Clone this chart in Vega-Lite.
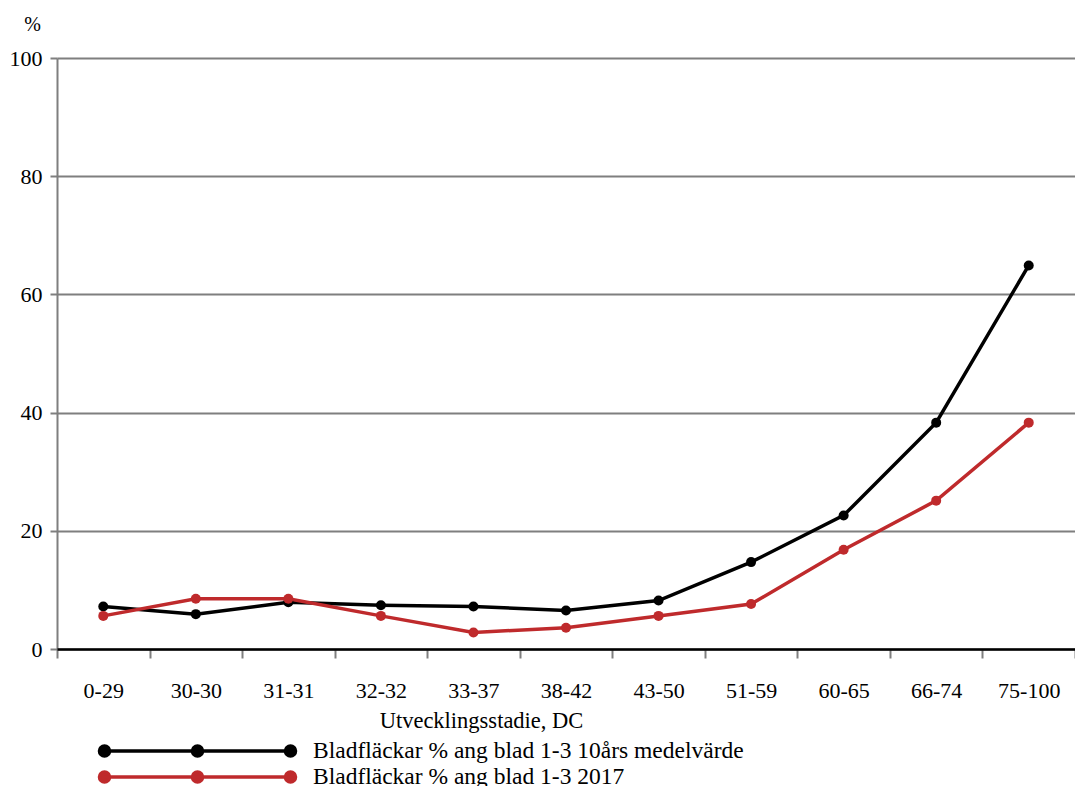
{
  "$schema": "https://vega.github.io/schema/vega-lite/v6.json",
  "autosize": {"type": "none"},
  "padding": {"left": 57, "top": 58, "right": 0, "bottom": 137},
  "width": 1018,
  "height": 591,
  "background": "white",
  "config": {
    "font": "Liberation Serif",
    "view": {"stroke": null}
  },
  "data": {
    "values": [
      {"stage": "0-29", "serie": "Bladfläckar % ang blad 1-3 10års medelvärde", "value": 7.2},
      {"stage": "30-30", "serie": "Bladfläckar % ang blad 1-3 10års medelvärde", "value": 5.9},
      {"stage": "31-31", "serie": "Bladfläckar % ang blad 1-3 10års medelvärde", "value": 7.9},
      {"stage": "32-32", "serie": "Bladfläckar % ang blad 1-3 10års medelvärde", "value": 7.4},
      {"stage": "33-37", "serie": "Bladfläckar % ang blad 1-3 10års medelvärde", "value": 7.2},
      {"stage": "38-42", "serie": "Bladfläckar % ang blad 1-3 10års medelvärde", "value": 6.5},
      {"stage": "43-50", "serie": "Bladfläckar % ang blad 1-3 10års medelvärde", "value": 8.2},
      {"stage": "51-59", "serie": "Bladfläckar % ang blad 1-3 10års medelvärde", "value": 14.7},
      {"stage": "60-65", "serie": "Bladfläckar % ang blad 1-3 10års medelvärde", "value": 22.6},
      {"stage": "66-74", "serie": "Bladfläckar % ang blad 1-3 10års medelvärde", "value": 38.3},
      {"stage": "75-100", "serie": "Bladfläckar % ang blad 1-3 10års medelvärde", "value": 64.9},
      {"stage": "0-29", "serie": "Bladfläckar % ang blad 1-3 2017", "value": 5.6},
      {"stage": "30-30", "serie": "Bladfläckar % ang blad 1-3 2017", "value": 8.5},
      {"stage": "31-31", "serie": "Bladfläckar % ang blad 1-3 2017", "value": 8.5},
      {"stage": "32-32", "serie": "Bladfläckar % ang blad 1-3 2017", "value": 5.6},
      {"stage": "33-37", "serie": "Bladfläckar % ang blad 1-3 2017", "value": 2.8},
      {"stage": "38-42", "serie": "Bladfläckar % ang blad 1-3 2017", "value": 3.6},
      {"stage": "43-50", "serie": "Bladfläckar % ang blad 1-3 2017", "value": 5.6},
      {"stage": "51-59", "serie": "Bladfläckar % ang blad 1-3 2017", "value": 7.6},
      {"stage": "60-65", "serie": "Bladfläckar % ang blad 1-3 2017", "value": 16.8},
      {"stage": "66-74", "serie": "Bladfläckar % ang blad 1-3 2017", "value": 25.1},
      {"stage": "75-100", "serie": "Bladfläckar % ang blad 1-3 2017", "value": 38.3}
    ]
  },
  "mark": {"type": "line", "strokeWidth": 3.5, "point": {"filled": true, "size": 100}},
  "encoding": {
    "x": {
      "field": "stage",
      "type": "nominal",
      "sort": null,
      "scale": {"type": "band", "paddingInner": 0, "paddingOuter": 0},
      "title": "Utvecklingsstadie, DC",
      "axis": {
        "labelAngle": 0,
        "labelFontSize": 22,
        "labelColor": "black",
        "labelPadding": 22,
        "tickBand": "extent",
        "tickSize": 9,
        "tickWidth": 2,
        "tickColor": "#7f7f7f",
        "domainColor": "black",
        "domainWidth": 2.5,
        "zindex": 1,
        "titleFontSize": 22.5,
        "titleFontWeight": "normal",
        "titleColor": "black",
        "titleAnchor": null,
        "titleAlign": "center",
        "titleBaseline": "middle",
        "titleX": 424,
        "titleY": 71
      }
    },
    "y": {
      "field": "value",
      "type": "quantitative",
      "scale": {"domain": [0, 100]},
      "title": "%",
      "axis": {
        "values": [0, 20, 40, 60, 80, 100],
        "labelFontSize": 22,
        "labelColor": "black",
        "labelPadding": 8,
        "tickSize": 7,
        "tickWidth": 2,
        "tickColor": "#7f7f7f",
        "gridColor": "#7f7f7f",
        "gridWidth": 2,
        "gridOpacity": 1,
        "domainColor": "#7f7f7f",
        "domainWidth": 2,
        "titleAngle": 0,
        "titleFontSize": 20,
        "titleFontWeight": "normal",
        "titleColor": "black",
        "titleAnchor": null,
        "titleAlign": "center",
        "titleBaseline": "middle",
        "titleX": -25,
        "titleY": -34
      }
    },
    "color": {
      "field": "serie",
      "type": "nominal",
      "scale": {
        "domain": ["Bladfläckar % ang blad 1-3 10års medelvärde", "Bladfläckar % ang blad 1-3 2017"],
        "range": ["#000000", "#bf2a2c"]
      },
      "legend": {
        "title": null,
        "orient": "none",
        "direction": "vertical",
        "legendX": 39.5,
        "legendY": 680,
        "padding": 0,
        "rowPadding": 0,
        "clipHeight": 26,
        "symbolOffset": 6,
        "symbolType": "M-1,0L1,0M-1.054,0A0.054,0.054,0,1,0,-0.946,0A0.054,0.054,0,1,0,-1.054,0M-0.054,0A0.054,0.054,0,1,0,0.054,0A0.054,0.054,0,1,0,-0.054,0M0.946,0A0.054,0.054,0,1,0,1.054,0A0.054,0.054,0,1,0,0.946,0",
        "symbolSize": 34596,
        "symbolStrokeWidth": 3.5,
        "labelOffset": 20.5,
        "labelFontSize": 23.5,
        "labelColor": "black",
        "labelLimit": 700,
        "encode": {
          "symbols": {
            "update": {
              "fill": {"scale": "color", "field": "value"},
              "stroke": {"scale": "color", "field": "value"},
              "strokeWidth": {"value": 3.5},
              "opacity": {"value": 1}
            }
          }
        }
      }
    }
  }
}
